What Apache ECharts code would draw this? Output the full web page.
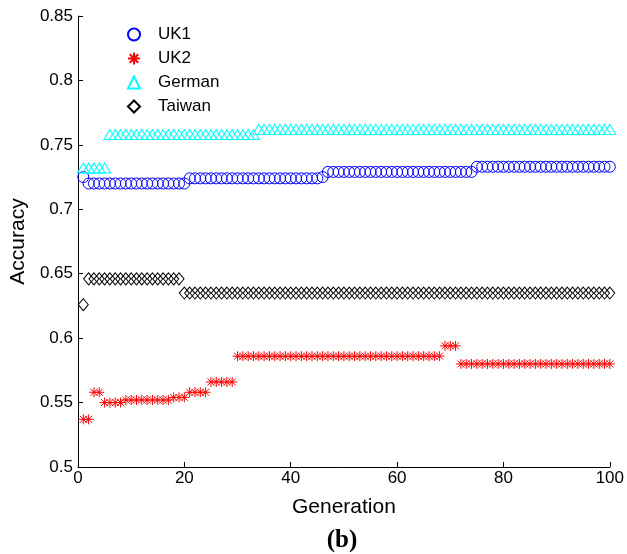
<!DOCTYPE html>
<html>
<head>
<meta charset="utf-8">
<script src="https://cdn.jsdelivr.net/npm/echarts@6/dist/echarts.min.js"></script>
<style>
html,body{margin:0;padding:0;background:#fff;}
#chart{width:627px;height:554px;}
</style>
</head>
<body>
<div id="chart"></div>
<script>
// accuracy per generation (1..100)
var uk1 = [
	0.725,0.720,0.720,0.720,0.720,0.720,0.720,0.720,0.720,0.720,
	0.720,0.720,0.720,0.720,0.720,0.720,0.720,0.720,0.720,0.720,
	0.724,0.724,0.724,0.724,0.724,0.724,0.724,0.724,0.724,0.724,
	0.724,0.724,0.724,0.724,0.724,0.724,0.724,0.724,0.724,0.724,
	0.724,0.724,0.724,0.724,0.724,0.725,0.729,0.729,0.729,0.729,
	0.729,0.729,0.729,0.729,0.729,0.729,0.729,0.729,0.729,0.729,
	0.729,0.729,0.729,0.729,0.729,0.729,0.729,0.729,0.729,0.729,
	0.729,0.729,0.729,0.729,0.733,0.733,0.733,0.733,0.733,0.733,
	0.733,0.733,0.733,0.733,0.733,0.733,0.733,0.733,0.733,0.733,
	0.733,0.733,0.733,0.733,0.733,0.733,0.733,0.733,0.733,0.733
];
var uk2 = [
	0.537,0.537,0.558,0.558,0.550,0.550,0.550,0.550,0.552,0.552,
	0.552,0.552,0.552,0.552,0.552,0.552,0.552,0.554,0.554,0.554,
	0.558,0.558,0.558,0.558,0.566,0.566,0.566,0.566,0.566,0.586,
	0.586,0.586,0.586,0.586,0.586,0.586,0.586,0.586,0.586,0.586,
	0.586,0.586,0.586,0.586,0.586,0.586,0.586,0.586,0.586,0.586,
	0.586,0.586,0.586,0.586,0.586,0.586,0.586,0.586,0.586,0.586,
	0.586,0.586,0.586,0.586,0.586,0.586,0.586,0.586,0.594,0.594,
	0.594,0.580,0.580,0.580,0.580,0.580,0.580,0.580,0.580,0.580,
	0.580,0.580,0.580,0.580,0.580,0.580,0.580,0.580,0.580,0.580,
	0.580,0.580,0.580,0.580,0.580,0.580,0.580,0.580,0.580,0.580
];
var german = [
	0.732,0.732,0.732,0.732,0.732,0.758,0.758,0.758,0.758,0.758,
	0.758,0.758,0.758,0.758,0.758,0.758,0.758,0.758,0.758,0.758,
	0.758,0.758,0.758,0.758,0.758,0.758,0.758,0.758,0.758,0.758,
	0.758,0.758,0.758,0.762,0.762,0.762,0.762,0.762,0.762,0.762,
	0.762,0.762,0.762,0.762,0.762,0.762,0.762,0.762,0.762,0.762,
	0.762,0.762,0.762,0.762,0.762,0.762,0.762,0.762,0.762,0.762,
	0.762,0.762,0.762,0.762,0.762,0.762,0.762,0.762,0.762,0.762,
	0.762,0.762,0.762,0.762,0.762,0.762,0.762,0.762,0.762,0.762,
	0.762,0.762,0.762,0.762,0.762,0.762,0.762,0.762,0.762,0.762,
	0.762,0.762,0.762,0.762,0.762,0.762,0.762,0.762,0.762,0.762
];
var taiwan = [
	0.626,0.646,0.646,0.646,0.646,0.646,0.646,0.646,0.646,0.646,
	0.646,0.646,0.646,0.646,0.646,0.646,0.646,0.646,0.646,0.635,
	0.635,0.635,0.635,0.635,0.635,0.635,0.635,0.635,0.635,0.635,
	0.635,0.635,0.635,0.635,0.635,0.635,0.635,0.635,0.635,0.635,
	0.635,0.635,0.635,0.635,0.635,0.635,0.635,0.635,0.635,0.635,
	0.635,0.635,0.635,0.635,0.635,0.635,0.635,0.635,0.635,0.635,
	0.635,0.635,0.635,0.635,0.635,0.635,0.635,0.635,0.635,0.635,
	0.635,0.635,0.635,0.635,0.635,0.635,0.635,0.635,0.635,0.635,
	0.635,0.635,0.635,0.635,0.635,0.635,0.635,0.635,0.635,0.635,
	0.635,0.635,0.635,0.635,0.635,0.635,0.635,0.635,0.635,0.635
];
var names = ['UK1','UK2','German','Taiwan'];

var asterisk = 'path://M5 0L5 10M0 5L10 5M1.5 1.5L8.5 8.5M8.5 1.5L1.5 8.5';
var font = '"Liberation Sans", Arial, sans-serif';

function toPoints(arr){
	var pts = [];
	for(var i=0;i<arr.length;i++){
		pts.push([i+1, arr[i]]);
	}
	return pts;
}

function markerSeries(name, arr, symbol, size, color){
	return {
		name: name,
		type: 'scatter',
		data: toPoints(arr),
		symbol: symbol,
		symbolSize: size,
		itemStyle: {
			color: 'rgba(0,0,0,0)',
			borderColor: color,
			borderWidth: 1,
			opacity: 1
		},
		emphasis: {disabled: true},
		animation: false
	};
}

var myChart = echarts.init(document.getElementById('chart'));

var option = {
	backgroundColor: '#fff',
	grid: {left: 76, right: 14, top: 16, bottom: 87},
	legend: {
		orient: 'vertical',
		left: 122,
		top: 21,
		itemWidth: 12,
		itemHeight: 12,
		itemGap: 7,
		data: names,
		textStyle: {
			fontFamily: font,
			fontSize: 17,
			color: '#000',
			padding: [0, 0, 0, 13]
		}
	},
	xAxis: {
		type: 'value',
		min: 0,
		max: 100,
		interval: 20,
		name: 'Generation',
		nameLocation: 'middle',
		nameGap: 30,
		nameTextStyle: {fontFamily: font, fontSize: 21, color: '#000'},
		axisLine: {lineStyle: {color: '#000', width: 1}},
		axisTick: {inside: true, length: 5, lineStyle: {color: '#000'}},
		axisLabel: {fontFamily: font, fontSize: 17, color: '#000', margin: 3},
		splitLine: {show: false}
	},
	yAxis: {
		type: 'value',
		min: 0.5,
		max: 0.85,
		interval: 0.05,
		name: 'Accuracy',
		nameLocation: 'middle',
		nameGap: 48,
		nameTextStyle: {fontFamily: font, fontSize: 21, color: '#000'},
		axisLine: {show: true, lineStyle: {color: '#000', width: 1}},
		axisTick: {show: true, inside: true, length: 5, lineStyle: {color: '#000'}},
		axisLabel: {
			fontFamily: font, fontSize: 17, color: '#000', margin: 5,
			formatter: function(v){ return (+v.toFixed(2)) + ''; }
		},
		splitLine: {show: false}
	},
	graphic: [{
		type: 'text',
		x: 342,
		y: 528,
		style: {
			text: '(b)',
			align: 'center',
			font: 'bold 25px "Liberation Serif", "Times New Roman", serif',
			fill: '#000'
		}
	}],
	series: [
		markerSeries('UK1', uk1, 'circle', 11, '#0000ff'),
		markerSeries('UK2', uk2, asterisk, 10, '#ff0000'),
		markerSeries('German', german, 'triangle', [12, 10], '#00ffff'),
		markerSeries('Taiwan', taiwan, 'diamond', [10, 12], '#000000')
	]
};
myChart.setOption(option);
</script>
</body>
</html>
